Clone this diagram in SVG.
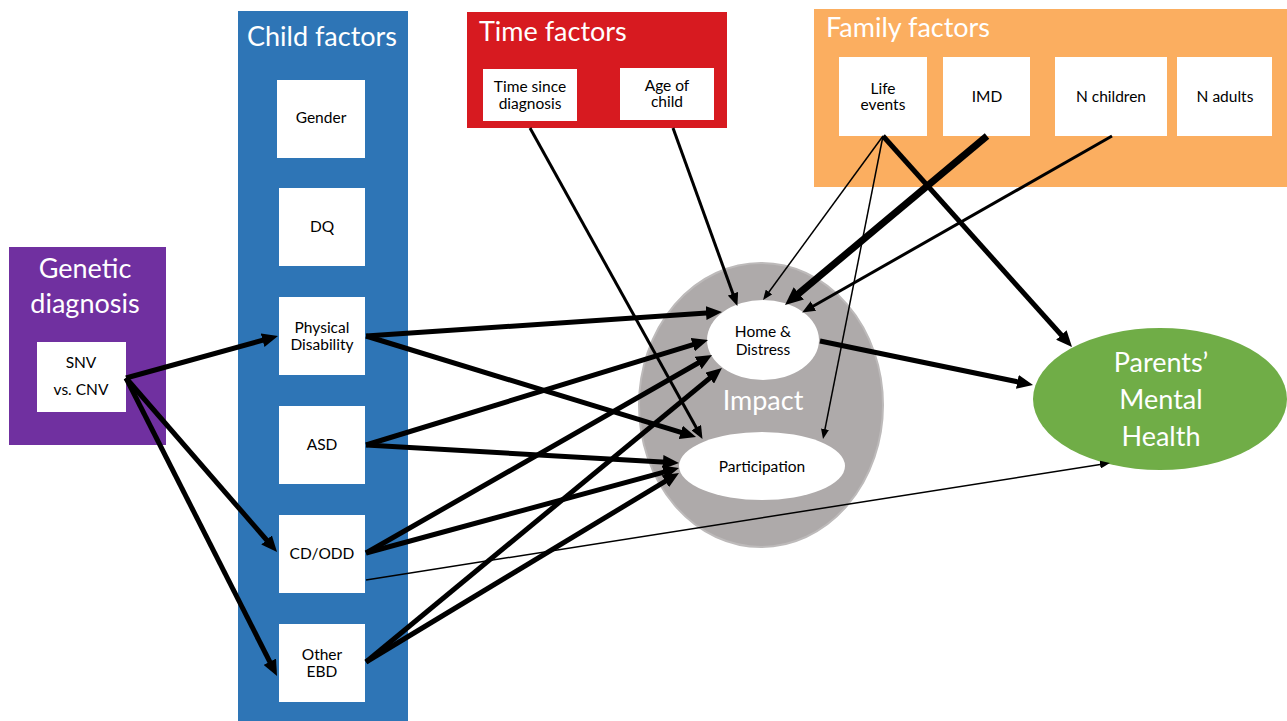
<svg xmlns="http://www.w3.org/2000/svg" width="1287" height="721" viewBox="0 0 1287 721">
<style>
.t{font-family:Lato,"Open Sans","Liberation Sans",sans-serif;fill:#fff;font-size:27px}
.s{font-family:Lato,"Open Sans","Liberation Sans",sans-serif;fill:#000;font-size:15.5px;text-anchor:middle}
.box{fill:#fff}
.c{stroke:#000;fill:none}
.w5{stroke-width:5;marker-end:url(#big)}
.w7{stroke-width:7;marker-end:url(#huge)}
.w3{stroke-width:3;marker-end:url(#med)}
.w1{stroke-width:1.5;marker-end:url(#small)}
</style>
<defs>
<marker id="big" markerUnits="userSpaceOnUse" markerWidth="16" markerHeight="14" refX="8" refY="7" orient="auto"><path d="M0,0 L16,7 L0,14 z" fill="#000"/></marker>
<marker id="huge" markerUnits="userSpaceOnUse" markerWidth="18" markerHeight="16" refX="9" refY="8" orient="auto"><path d="M0,0 L18,8 L0,16 z" fill="#000"/></marker>
<marker id="med" markerUnits="userSpaceOnUse" markerWidth="13" markerHeight="11" refX="6" refY="5.5" orient="auto"><path d="M0,0 L13,5.5 L0,11 z" fill="#000"/></marker>
<marker id="small" markerUnits="userSpaceOnUse" markerWidth="10" markerHeight="8" refX="5" refY="4" orient="auto"><path d="M0,0 L10,4 L0,8 z" fill="#000"/></marker>
</defs>
<rect width="1287" height="721" fill="#fff"/>

<g id="genetic">
<rect x="9" y="247" width="157" height="198" fill="#7030A0"/>
<text class="t" x="85" y="278" text-anchor="middle">Genetic</text>
<text class="t" x="85" y="313" text-anchor="middle">diagnosis</text>
</g>
<g id="snv">
<rect class="box" x="37" y="342" width="89" height="70"/>
<text class="s" x="81" y="368">SNV</text>
<text class="s" x="81" y="395">vs. CNV</text>
</g>

<g id="child-factors">
<rect x="238" y="11" width="170" height="710" fill="#2E75B6"/>
<text class="t" x="322" y="46" text-anchor="middle">Child factors</text>
</g>
<g id="gender"><rect class="box" x="277" y="80" width="88" height="78"/><text class="s" x="321" y="123">Gender</text></g>
<g id="dq"><rect class="box" x="279" y="188" width="86" height="78"/><text class="s" x="322" y="232">DQ</text></g>
<g id="physical"><rect class="box" x="279" y="297" width="86" height="78"/><text class="s" x="322" y="333">Physical</text><text class="s" x="322" y="350">Disability</text></g>
<g id="asd"><rect class="box" x="279" y="406" width="86" height="78"/><text class="s" x="322" y="450">ASD</text></g>
<g id="cdodd"><rect class="box" x="279" y="515" width="86" height="78"/><text class="s" x="322" y="559">CD/ODD</text></g>
<g id="otherebd"><rect class="box" x="279" y="624" width="86" height="78"/><text class="s" x="322" y="660">Other</text><text class="s" x="322" y="677">EBD</text></g>

<g id="time-factors">
<rect x="467" y="12" width="260" height="116" fill="#D71A20"/>
<text class="t" x="479" y="41">Time factors</text>
</g>
<g id="time-since"><rect class="box" x="483" y="69" width="94" height="52"/><text class="s" x="530" y="92">Time since</text><text class="s" x="530" y="109">diagnosis</text></g>
<g id="age-child"><rect class="box" x="620" y="68" width="94" height="52"/><text class="s" x="667" y="91">Age of</text><text class="s" x="667" y="107">child</text></g>

<g id="family-factors">
<rect x="814" y="9" width="473" height="178" fill="#FBAE60"/>
<text class="t" x="826" y="37">Family factors</text>
</g>
<g id="life-events"><rect class="box" x="839" y="57" width="88" height="79"/><text class="s" x="883" y="94">Life</text><text class="s" x="883" y="110">events</text></g>
<g id="imd"><rect class="box" x="943" y="57" width="87" height="79"/><text class="s" x="987" y="102">IMD</text></g>
<g id="n-children"><rect class="box" x="1055" y="57" width="112" height="79"/><text class="s" x="1111" y="102">N children</text></g>
<g id="n-adults"><rect class="box" x="1177" y="57" width="95" height="79"/><text class="s" x="1225" y="102">N adults</text></g>

<g id="impact">
<ellipse cx="761" cy="405" rx="122" ry="142" fill="#AEAAAA" stroke="#BDBABA" stroke-width="2"/>
<text class="t" x="763" y="410" text-anchor="middle" font-size="30">Impact</text>
</g>
<g id="home-distress"><ellipse cx="763" cy="340" rx="56" ry="40" fill="#fff"/><text class="s" x="763" y="337">Home &amp;</text><text class="s" x="763" y="355">Distress</text></g>
<g id="participation"><ellipse cx="762" cy="466" rx="83" ry="34" fill="#fff"/><text class="s" x="762" y="472">Participation</text></g>

<g id="parents-mh">
<ellipse cx="1160" cy="399" rx="127" ry="71" fill="#70AD47"/>
<text class="t" x="1161" y="372" text-anchor="middle">Parents’</text>
<text class="t" x="1161" y="409" text-anchor="middle">Mental</text>
<text class="t" x="1161" y="446" text-anchor="middle">Health</text>
</g>

<g id="connectors">
<line class="c w5" x1="126" y1="378" x2="270.3" y2="338.1"/>
<line class="c w5" x1="126" y1="378" x2="271.8" y2="546"/>
<line class="c w5" x1="126" y1="378" x2="273.4" y2="668.9"/>
<line class="c w5" x1="366" y1="336" x2="714" y2="312.5"/>
<line class="c w5" x1="366" y1="336" x2="688.4" y2="434.7"/>
<line class="c w5" x1="366" y1="445" x2="700.4" y2="342.3"/>
<line class="c w5" x1="366" y1="445" x2="671" y2="462.5"/>
<line class="c w5" x1="366" y1="553" x2="705.1" y2="359"/>
<line class="c w5" x1="366" y1="553" x2="671.3" y2="470.1"/>
<line class="c w5" x1="366" y1="662" x2="715.8" y2="373.1"/>
<line class="c w5" x1="366" y1="662" x2="672.2" y2="477.1"/>
<line class="c w1" x1="366" y1="580" x2="1105" y2="463.8"/>
<line class="c w3" x1="530" y1="128" x2="699.1" y2="432.8"/>
<line class="c w3" x1="673" y1="128" x2="735" y2="299.4"/>
<line class="c w1" x1="883" y1="136" x2="766" y2="296"/>
<line class="c w1" x1="883" y1="136" x2="824" y2="434.1"/>
<line class="c w5" x1="883" y1="136" x2="1066.7" y2="341"/>
<line class="c w7" x1="987" y1="136" x2="791.9" y2="299.2"/>
<line class="c w3" x1="1112" y1="136" x2="808.2" y2="309"/>
<line class="c w5" x1="820" y1="341" x2="1025.2" y2="383.4"/>
</g>
</svg>
